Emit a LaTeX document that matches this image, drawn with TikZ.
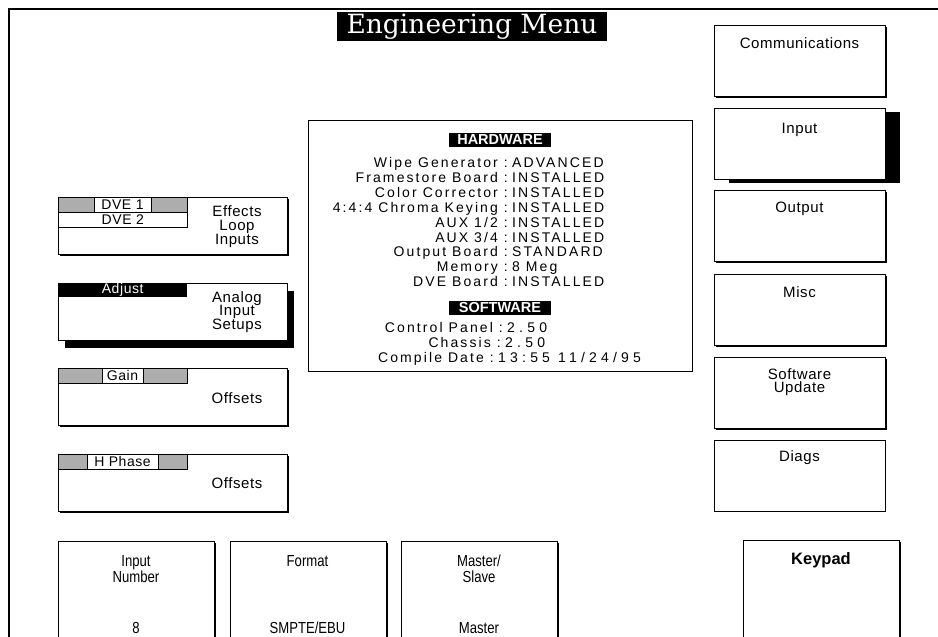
\documentclass[tikz,border=0pt]{standalone}
\usepackage{fontspec}
\setmainfont{Liberation Sans}
\newfontfamily\titlefont{DejaVu Serif}
\newfontfamily\btnfont[LetterSpace=4]{Liberation Sans}
\newfontfamily\panelfont[LetterSpace=15]{Liberation Sans}
\newfontfamily\narrowfont[FakeStretch=0.82]{Liberation Sans}
\usetikzlibrary{shadows}

\tikzset{
  boxbase/.style={draw, fill=white, line width=.8pt, inner sep=0pt, anchor=north west},
  box/.style={boxbase, drop shadow={shadow xshift=1.2pt, shadow yshift=-1.2pt, fill=black, opacity=1}},
  rsize/.style={minimum width=171pt, minimum height=71pt},
  lsize/.style={minimum width=229pt, minimum height=57pt},
  bsize/.style={minimum width=156pt, minimum height=110pt},
  tabbar/.style={draw, fill=black!32, line width=.6pt, inner sep=0pt, anchor=north west,
    minimum width=129pt, minimum height=15pt},
  tab/.style={draw, fill=white, line width=.6pt, inner sep=0pt, minimum height=15pt,
    font=\btnfont\fontsize{14}{14}\selectfont},
  btxt/.style={font=\btnfont\fontsize{15}{14}\selectfont, anchor=base, inner sep=0pt},
  ntxt/.style={font=\narrowfont\fontsize{16}{14}\selectfont, anchor=base, inner sep=0pt},
  ptxt/.style={font=\panelfont\fontsize{14}{14}\selectfont, inner sep=0pt},
  head/.style={fill=black, text=white, font=\bfseries\fontsize{14.5}{14.5}\selectfont,
    minimum width=102pt, minimum height=14pt, inner sep=0pt}
}

\begin{document}
\begin{tikzpicture}[x=1pt, y=-1pt]
\useasboundingbox (0,0) rectangle (938,637);

% frame and title
\draw[line width=1.2pt] (9,637) -- (9,9) -- (938,9);
\node[fill=black, text=white, inner sep=0pt, minimum width=270pt, minimum height=29.5pt,
  font=\titlefont\fontsize{26.5}{26.5}\selectfont] (title) at (472,26.5) {Engineering Menu};

% right column
\node[box, rsize] (comm) at (714,25) {};
\node[btxt] (comm-t) at (799.5,48) {Communications};
\node[boxbase, rsize, drop shadow={shadow xshift=14.5pt, shadow yshift=-3.5pt, fill=black, opacity=1}] (input) at (714,108) {};
\node[btxt] (input-t) at (799.5,133) {Input};
\node[box, rsize] (output) at (714,190) {};
\node[btxt] (output-t) at (799.5,212) {Output};
\node[box, rsize] (misc) at (714,274) {};
\node[btxt] (misc-t) at (799.5,297) {Misc};
\node[box, rsize] (swup) at (714,357) {};
\node[btxt] (swup-a) at (799.5,379) {Software};
\node[btxt] (swup-b) at (799.5,392.5) {Update};
\node[box, rsize] (diags) at (713.5,439.5) {};
\node[btxt] (diags-t) at (799.5,461) {Diags};

% left column
\node[box, lsize] (effects) at (58,197) {};
\node[tabbar] (dvebar) at (58,197) {};
\node[tab, minimum width=57pt] (dve1) at (122.5,204.5) {DVE 1};
\node[tab, minimum width=129pt, anchor=north west] (dve2) at (58,212) {DVE 2};
\node[btxt] (effects-a) at (237,216) {Effects};
\node[btxt] (effects-b) at (237,230) {Loop};
\node[btxt] (effects-c) at (237,244.5) {Inputs};

\node[boxbase, lsize, drop shadow={shadow xshift=6.5pt, shadow yshift=-7.5pt, fill=black, opacity=1}] (analog) at (58,283) {};
\node[fill=black, text=white, anchor=north west, minimum width=129pt, minimum height=14pt, inner sep=0pt,
  font=\btnfont\fontsize{14}{14}\selectfont] (adjust) at (58,283) {Adjust};
\node[btxt] (analog-a) at (237,302) {Analog};
\node[btxt] (analog-b) at (237,315.5) {Input};
\node[btxt] (analog-c) at (237,329.5) {Setups};

\node[box, lsize] (gain) at (58,368) {};
\node[tabbar] (gainbar) at (58,368) {};
\node[tab, minimum width=41pt] (gain-tab) at (122.5,375.5) {Gain};
\node[btxt] (gain-t) at (237,403) {Offsets};

\node[box, lsize] (hphase) at (58,454) {};
\node[tabbar] (hphbar) at (58,454) {};
\node[tab, minimum width=71pt] (hph-tab) at (122.5,461.5) {H Phase};
\node[btxt] (hphase-t) at (237,488) {Offsets};

% hardware / software panel
\node[draw, line width=.8pt, anchor=north west, minimum width=384pt, minimum height=251pt, inner sep=0pt] (panel) at (308,120) {};
\node[head] (hw) at (500,140) {HARDWARE};
\foreach \lbl/\val [count=\i from 0] in {Wipe Generator/ADVANCED, Framestore Board/INSTALLED,
  Color Corrector/INSTALLED, 4:4:4 Chroma Keying/INSTALLED, {AUX 1/2}/INSTALLED,
  {AUX 3/4}/INSTALLED, Output Board/STANDARD, Memory/8 Meg, DVE Board/INSTALLED}
{
  \node[ptxt, anchor=base east] (hw-l\i) at (508,167.5+14.9*\i) {\lbl\ :};
  \node[ptxt, anchor=base west] (hw-v\i) at (512,167.5+14.9*\i) {\val};
}
\node[head] (sw) at (500,307.5) {SOFTWARE};
\foreach \lbl/\val/\cx [count=\i from 0] in {Control Panel/2.50/503, Chassis/2.50/501,
  Compile Date/{13:55 11/24/95}/494}
{
  \node[ptxt, anchor=base east] (sw-l\i) at (\cx,332.5+15*\i) {\lbl\ :};
  \node[ptxt, anchor=base west] (sw-v\i) at (\cx+4,332.5+15*\i) {\addfontfeature{LetterSpace=30}\val};
}

% bottom row
\node[box, bsize] (innum) at (58,541) {};
\node[ntxt] (innum-a) at (136,566) {Input};
\node[ntxt] (innum-b) at (136,582) {Number};
\node[ntxt] (innum-v) at (136,633) {8};
\node[box, bsize] (format) at (230,541) {};
\node[ntxt] (format-a) at (307.5,566) {Format};
\node[ntxt] (format-v) at (307.5,633) {SMPTE/EBU};
\node[box, bsize] (master) at (401,541) {};
\node[ntxt] (master-a) at (479,566) {Master/};
\node[ntxt] (master-b) at (479,582) {Slave};
\node[ntxt] (master-v) at (479,633) {Master};
\node[box, bsize] (keypad) at (743,540) {};
\node[font=\bfseries\fontsize{16.5}{16.5}\selectfont, anchor=base, inner sep=0pt] (keypad-t) at (821,564) {Keypad};
\end{tikzpicture}
\end{document}
